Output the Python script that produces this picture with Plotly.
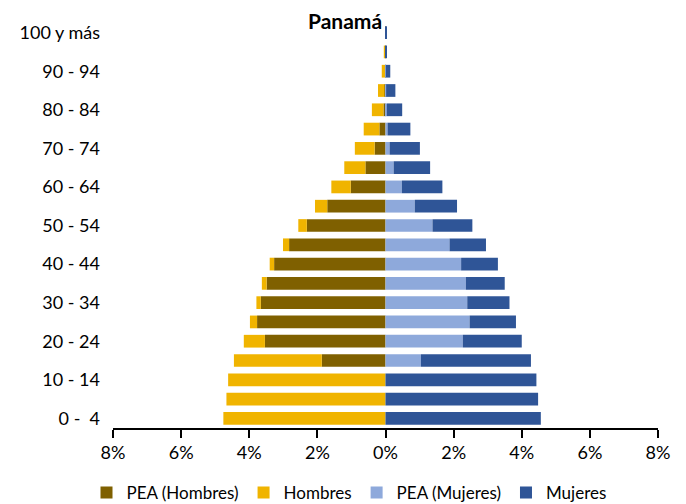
import plotly.graph_objects as go

ages = ["0 - 4", "5 - 9", "10 - 14", "15 - 19", "20 - 24", "25 - 29", "30 - 34",
        "35 - 39", "40 - 44", "45 - 49", "50 - 54", "55 - 59", "60 - 64", "65 - 69",
        "70 - 74", "75 - 79", "80 - 84", "85 - 89", "90 - 94", "95 - 99", "100 y más"]
tick_ages = ["0 - 4", "10 - 14", "20 - 24", "30 - 34", "40 - 44", "50 - 54",
             "60 - 64", "70 - 74", "80 - 84", "90 - 94", "100 y más"]
tick_age_text = ["0 -\u00a0\u00a04", "10 - 14", "20 - 24", "30 - 34", "40 - 44", "50 - 54",
                 "60 - 64", "70 - 74", "80 - 84", "90 - 94", "100 y más"]

# percentages of total population
hombres_total = [4.76, 4.67, 4.62, 4.45, 4.16, 3.98, 3.79, 3.63, 3.40, 3.01, 2.56,
                 2.07, 1.59, 1.21, 0.90, 0.64, 0.40, 0.22, 0.11, 0.05, 0.01]
pea_hombres = [0.0, 0.0, 0.0, 1.87, 3.54, 3.77, 3.66, 3.49, 3.27, 2.83, 2.31,
               1.71, 1.02, 0.59, 0.32, 0.18, 0.06, 0.03, 0.01, 0.0, 0.0]
mujeres_total = [4.56, 4.48, 4.43, 4.27, 4.00, 3.83, 3.64, 3.50, 3.30, 2.95, 2.55,
                 2.10, 1.67, 1.31, 1.01, 0.73, 0.49, 0.29, 0.14, 0.04, 0.02]
pea_mujeres = [0.0, 0.0, 0.0, 1.04, 2.27, 2.47, 2.40, 2.36, 2.22, 1.88, 1.38,
               0.86, 0.48, 0.24, 0.12, 0.06, 0.04, 0.02, 0.01, 0.0, 0.0]

x_ticks = [-8, -6, -4, -2, 0, 2, 4, 6, 8]
x_tick_text = ["8%", "6%", "4%", "2%", "0%", "2%", "4%", "6%", "8%"]

c_pea_h = "#7F6000"
c_h = "#F0B400"
c_pea_m = "#8EA9DB"
c_m = "#2F5597"

hombres_resto = [t - p for t, p in zip(hombres_total, pea_hombres)]
mujeres_resto = [t - p for t, p in zip(mujeres_total, pea_mujeres)]

fig = go.Figure()
fig.add_trace(go.Bar(y=ages, x=[-v for v in pea_hombres], orientation="h",
                     name="PEA (Hombres)", marker_color=c_pea_h))
fig.add_trace(go.Bar(y=ages, x=[-v for v in hombres_resto], orientation="h",
                     name="Hombres", marker_color=c_h))
fig.add_trace(go.Bar(y=ages, x=pea_mujeres, orientation="h",
                     name="PEA (Mujeres)", marker_color=c_pea_m))
fig.add_trace(go.Bar(y=ages, x=mujeres_resto, orientation="h",
                     name="Mujeres", marker_color=c_m))

fig.update_traces(marker_line_width=0)

# the page body has an 8px margin, so the figure is drawn 8px in from the corner
W, H = 678, 496
L, R, T, B = 105, 28, 15, 76
plot_w = W - L - R
plot_h = H - T - B

fig.update_layout(
    width=W, height=H,
    barmode="relative",
    bargap=0.34,
    paper_bgcolor="white",
    plot_bgcolor="white",
    margin=dict(l=L, r=R, t=T, b=B, pad=0, autoexpand=False),
    font=dict(family="Lato, Calibri, sans-serif", size=18, color="#000000"),
    showlegend=True,
    legend=dict(orientation="h", x=(341 - L) / plot_w, xanchor="center",
                y=-(485 - (T + plot_h)) / plot_h, yanchor="middle",
                font=dict(size=17), traceorder="normal",
                itemwidth=30, tracegroupgap=0),
    xaxis=dict(range=[-8, 8], tickvals=x_ticks, ticktext=x_tick_text,
               showgrid=False, zeroline=False, showline=True, linecolor="#000000",
               linewidth=1.5, ticks="outside", ticklen=8, tickwidth=1.5,
               tickcolor="#000000", tickfont=dict(size=18), fixedrange=True,
               automargin=False),
    yaxis=dict(categoryorder="array", categoryarray=ages,
               tickvals=tick_ages, ticktext=tick_age_text,
               showgrid=False, zeroline=False, showline=False, ticks="",
               ticklabelstandoff=12, tickfont=dict(size=18), automargin=False),
    annotations=[dict(text="<b>Panamá</b>", xref="paper", yref="paper",
                      x=(337 - L) / plot_w, y=1 + (T - 12) / plot_h,
                      xanchor="center", yanchor="middle", showarrow=False,
                      font=dict(size=21, color="#000000"))],
)

fig.write_html("out.html")
